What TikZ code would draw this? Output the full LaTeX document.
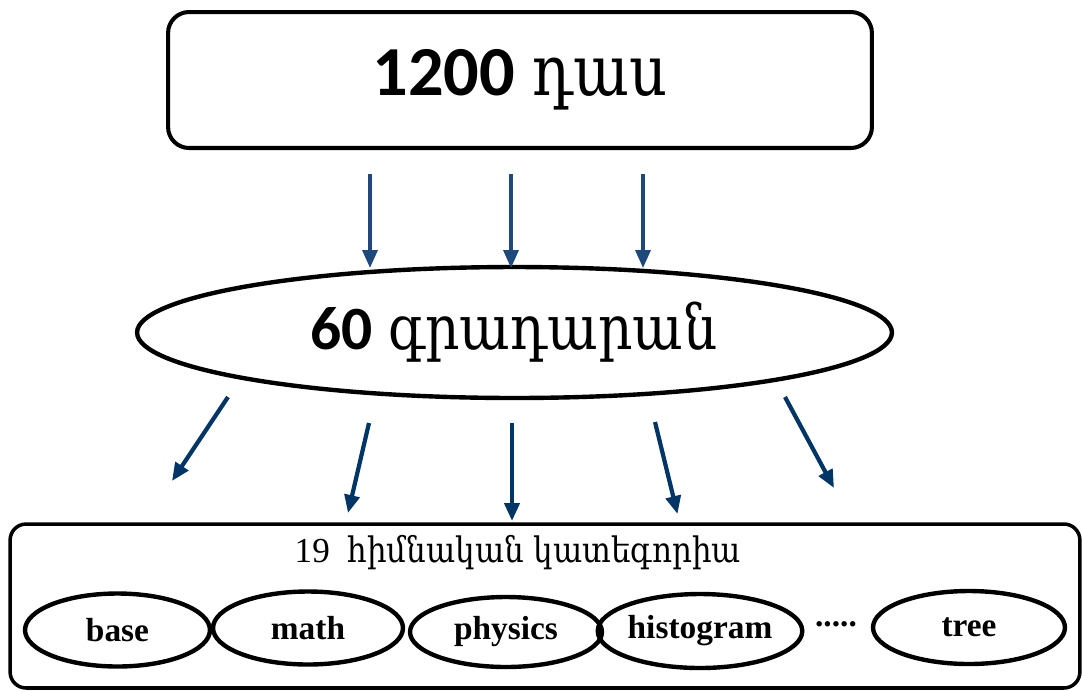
\documentclass[tikz,border=0pt]{standalone}
\usepackage{graphicx}
\usepackage{fontspec}
\setmainfont{Liberation Serif}
\newfontfamily\numfont{Carlito}
\newfontfamily\armfont{DejaVu Serif}
\usetikzlibrary{shapes.geometric,arrows.meta}
\definecolor{arrtop}{RGB}{31,73,125}
\definecolor{arrbot}{RGB}{0,53,102}
\tikzset{
  topbox/.style={draw, line width=2.3pt, rounded corners=0.42cm, minimum width=14.08cm, minimum height=2.72cm, inner sep=0pt},
  bigell/.style={draw, ellipse, line width=2.5pt, minimum width=15.1cm, minimum height=2.62cm, inner sep=0pt},
  botbox/.style={draw, line width=2pt, rounded corners=0.32cm, minimum width=21.4cm, minimum height=3.28cm, inner sep=0pt},
  catell/.style={draw, ellipse, line width=2.5pt, inner sep=0pt, font=\fontsize{19}{22}\selectfont\bfseries},
  toparrow/.style={draw=arrtop, line width=2pt, -{Triangle[length=0.36cm,width=0.3cm]}},
  botarrow/.style={draw=arrbot, line width=2.4pt, -{Triangle[length=0.36cm,width=0.3cm]}}
}
\begin{document}
\begin{tikzpicture}[x=0.02cm,y=-0.02cm]
\useasboundingbox (0,0) rectangle (1082,691);
\node[topbox] (top) at (520,80) {};
\node (toptext) at (520,80) {\fontsize{40}{46}\selectfont{\numfont\bfseries 1200} \scalebox{0.84}[1]{\armfont դաս}};
\node[bigell] (lib) at (514.5,332.5) {};
\node (libtext) at (514,332) {\fontsize{35}{40}\selectfont{\numfont\bfseries 60} \scalebox{0.87}[1]{\armfont գրադարան}};
\node[botbox] (cat) at (545,606) {};
\node (cattext) at (518,553) {\fontsize{20}{24}\selectfont 19\ \ \scalebox{0.88}[1]{\armfont հիմնական կատեգորիա}};
\node[catell, minimum width=3.7cm, minimum height=1.46cm] (base) at (117.5,630) {base};
\node[catell, minimum width=3.8cm, minimum height=1.46cm] (math) at (308,628) {math};
\node[catell, minimum width=3.84cm, minimum height=1.4cm] (phys) at (506,632) {physics};
\node[catell, minimum width=4.0cm, minimum height=1.48cm] (hist) at (700,631) {histogram};
\node[catell, minimum width=3.84cm, minimum height=1.46cm] (tree) at (969,627.5) {tree};
\node[font=\fontsize{19}{22}\selectfont\bfseries] (dots) at (836,624) {.....};
% top arrows
\coordinate (t1s) at (370,174); \coordinate (t1e) at (370,268);
\coordinate (t2s) at (511,174); \coordinate (t2e) at (511,268);
\coordinate (t3s) at (643,174); \coordinate (t3e) at (643,268);
\draw[toparrow] (t1s) -- (t1e);
\draw[toparrow] (t2s) -- (t2e);
\draw[toparrow] (t3s) -- (t3e);
% bottom arrows
\coordinate (b1s) at (228,397); \coordinate (b1e) at (172,481);
\coordinate (b2s) at (369,423); \coordinate (b2e) at (348,513);
\coordinate (b3s) at (512,423); \coordinate (b3e) at (512,521);
\coordinate (b4s) at (655,422); \coordinate (b4e) at (677.5,514);
\coordinate (b5s) at (785,397); \coordinate (b5e) at (834,488);
\draw[botarrow] (b1s) -- (b1e);
\draw[botarrow] (b2s) -- (b2e);
\draw[botarrow] (b3s) -- (b3e);
\draw[botarrow] (b4s) -- (b4e);
\draw[botarrow] (b5s) -- (b5e);
\end{tikzpicture}
\end{document}
